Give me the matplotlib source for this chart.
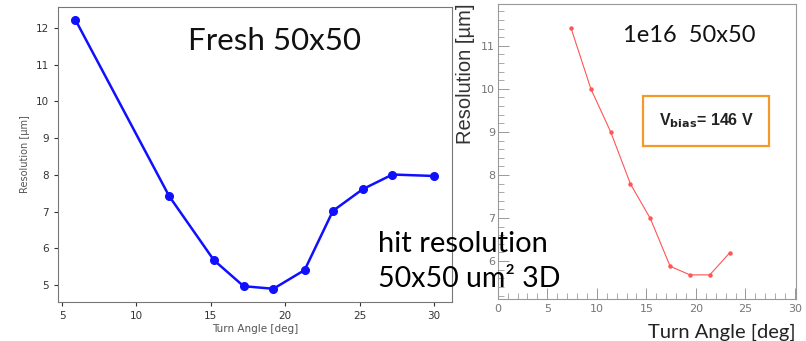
import matplotlib
matplotlib.use("Agg")
import matplotlib.pyplot as plt
from matplotlib.ticker import MultipleLocator

# Data
fresh_angle = [5.9, 12.2, 15.2, 17.2, 19.2, 21.3, 23.2, 25.2, 27.2, 30.0]
fresh_res = [12.22, 7.42, 5.68, 4.97, 4.90, 5.41, 7.02, 7.61, 8.01, 7.97]

irr_angle = [7.4, 9.4, 11.4, 13.4, 15.4, 17.4, 19.4, 21.4, 23.4]
irr_res = [11.41, 10.0, 9.0, 7.79, 6.99, 5.88, 5.68, 5.68, 6.19]

fresh_xticks = [5, 10, 15, 20, 25, 30]
fresh_yticks = [5, 6, 7, 8, 9, 10, 11, 12]
irr_xticks = [0, 5, 10, 15, 20, 25, 30]
irr_yticks = [6, 7, 8, 9, 10, 11]

W, H = 806, 341
fig = plt.figure(figsize=(W / 100, H / 100), dpi=100)

def box(l, t, r, b):
    return [l / W, 1 - b / H, (r - l) / W, (b - t) / H]

# Left panel
ax1 = fig.add_axes(box(58, 7, 452, 302))
ax1.plot(fresh_angle, fresh_res, color="#1010ff", lw=1.8, marker="o", ms=5.5)
ax1.set_xlim(4.73, 31.2)
ax1.set_ylim(4.54, 12.57)
ax1.set_xticks(fresh_xticks)
ax1.set_yticks(fresh_yticks)
ax1.tick_params(labelsize=7.5, colors="#333333", length=3, width=0.8)
for s in ax1.spines.values():
    s.set_color("#777777")
ax1.set_xlabel("Turn Angle [deg]", fontsize=7.5, color="#555555", labelpad=2)
ax1.set_ylabel("Resolution [µm]", fontsize=7, color="#555555", labelpad=4)

# Right panel (ROOT-like)
ax2 = fig.add_axes(box(497.7, 4, 796, 299))
ax2.plot(irr_angle, irr_res, color="#ff5555", lw=0.8, marker="o", ms=2.2)
ax2.set_xlim(0, 30.1)
ax2.set_ylim(5.12, 11.97)
ax2.set_xticks(irr_xticks)
ax2.set_yticks(irr_yticks)
ax2.xaxis.set_minor_locator(MultipleLocator(1))
ax2.yaxis.set_minor_locator(MultipleLocator(0.2))
ax2.tick_params(which="both", direction="in", colors="#888888", labelcolor="#777777",
                labelsize=8)
ax2.tick_params(which="major", length=8, width=0.6)
ax2.tick_params(which="minor", length=4, width=0.5)
ax2.tick_params(axis="y", pad=2)
for s in ax2.spines.values():
    s.set_color("#999999")
    s.set_linewidth(0.8)
ax2.set_ylabel("Resolution [µm]", fontsize=14.5, family="Liberation Sans", color="#333333",
               labelpad=4, loc="top")
ax2.set_xlabel("Turn Angle [deg]", fontsize=14.5, family="Lato", color="#222222",
               labelpad=7, loc="right")

# Annotations
fig.text(275 / W, 1 - 41 / H, "Fresh 50x50", fontsize=22.5, family="Lato",
         ha="center", va="center", color="#111111")
fig.text(689 / W, 1 - 35 / H, "1e16  50x50", fontsize=17, family="Lato",
         ha="center", va="center", color="#111111")
fig.text(706 / W, 1 - 121 / H, r"V$_{\mathbf{bias}}$= 146 V", fontsize=11.5,
         family="Liberation Sans", weight="bold", ha="center", va="center", color="#222222",
         bbox=dict(boxstyle="square,pad=0.95", fc="white", ec="#f39a2a", lw=1.6))
fig.text(378 / W, 1 - 244 / H, "hit resolution", fontsize=21, family="Lato",
         ha="left", va="center", color="black")
fig.text(378 / W, 1 - 279 / H, "50x50 um² 3D", fontsize=20.5, family="Lato",
         ha="left", va="center", color="black")

fig.savefig("out.png", dpi=100)
